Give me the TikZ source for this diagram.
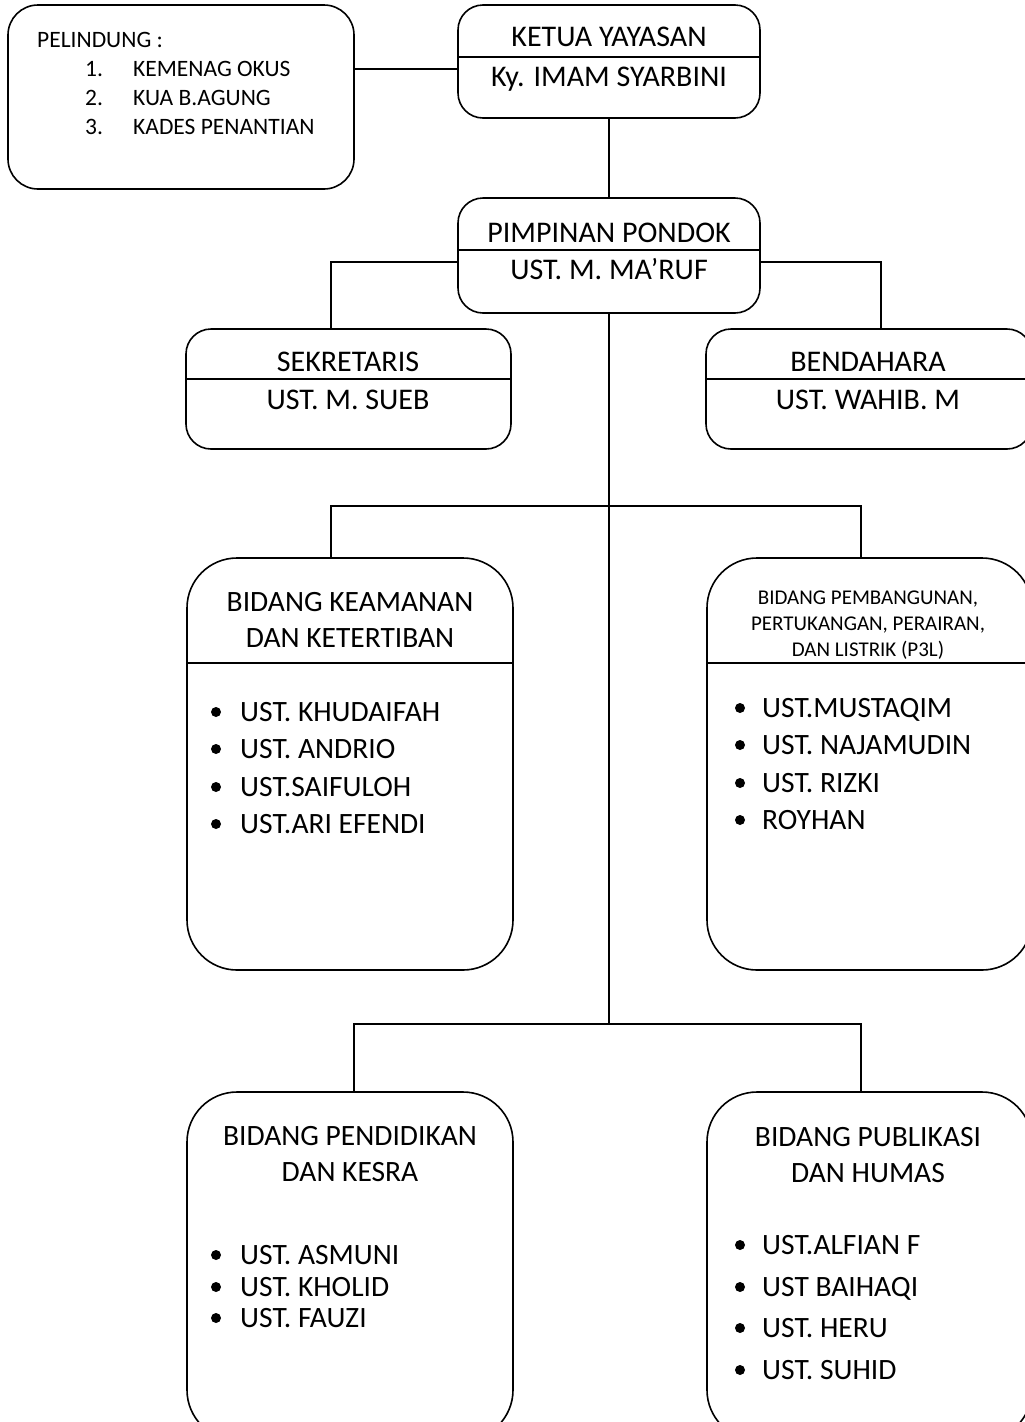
\documentclass[tikz,border=0pt]{standalone}
\usepackage{fontspec}
\setmainfont{Carlito}
\usepackage{tikz}

\tikzset{
  box/.style={draw, line width=1.6pt, rounded corners=25pt, inner sep=0pt, outer sep=0pt, anchor=north west},
  bigbox/.style={box, rounded corners=50pt},
  conn/.style={line width=1.6pt},
  head/.style={inner sep=0pt, text height=19pt, text depth=0pt, font=\fontsize{30}{36}\selectfont},
  title/.style={inner sep=0pt, align=center, font=\fontsize{29.5}{36}\selectfont},
  smalltitle/.style={inner sep=0pt, align=center, font=\fontsize{21}{26}\selectfont},
  item/.style={inner sep=0pt, anchor=west, text height=18.5pt, text depth=0pt, font=\fontsize{29.5}{34}\selectfont},
  small/.style={inner sep=0pt, anchor=west, text height=15pt, text depth=0pt, font=\fontsize{23.5}{28}\selectfont},
}

\begin{document}
\begin{tikzpicture}[x=1pt,y=-1pt]
\fill[white] (0,0) rectangle (1025,1422);
\useasboundingbox (0,0) rectangle (1025,1422);
\clip (0,0) rectangle (1025,1422);

% Pelindung
\node[box, rounded corners=30pt, minimum width=346pt, minimum height=184pt] (pelindung) at (8,5) {};
\node[small] (pel) at (37,40) {PELINDUNG :};
\node[small] (pel1n) at (85,69) {1.};
\node[small] (pel1) at (133,69) {KEMENAG OKUS};
\node[small] (pel2n) at (85,98) {2.};
\node[small] (pel2) at (133,98) {KUA B.AGUNG};
\node[small] (pel3n) at (85,127) {3.};
\node[small] (pel3) at (133,127) {KADES PENANTIAN};

% Ketua yayasan
\node[box, minimum width=302pt, minimum height=113pt] (ketua) at (458,5) {};
\draw[conn] ([yshift=-52pt]ketua.north west) -- ([yshift=-52pt]ketua.north east);
\node[head] (ketuajab) at (609,37) {KETUA YAYASAN};
\node[head] (ketuanama) at (609,77) {Ky. IMAM SYARBINI};

% Pimpinan pondok
\node[box, minimum width=302pt, minimum height=115pt] (pimpinan) at (458,198) {};
\draw[conn] ([yshift=-52pt]pimpinan.north west) -- ([yshift=-52pt]pimpinan.north east);
\node[head] (pimjab) at (609,233) {PIMPINAN PONDOK};
\node[head] (pimnama) at (609,270) {UST. M. MA’RUF};

% Sekretaris dan bendahara
\node[box, minimum width=325pt, minimum height=120pt] (sekretaris) at (186,329) {};
\draw[conn] ([yshift=-50pt]sekretaris.north west) -- ([yshift=-50pt]sekretaris.north east);
\node[head] (sekjab) at (348,362) {SEKRETARIS};
\node[head] (seknama) at (348,400) {UST. M. SUEB};

\node[box, minimum width=326pt, minimum height=120pt] (bendahara) at (706,329) {};
\draw[conn] ([yshift=-50pt]bendahara.north west) -- ([yshift=-50pt]bendahara.north east);
\node[head] (benjab) at (868,362) {BENDAHARA};
\node[head] (bennama) at (868,400) {UST. WAHIB. M};

% Bidang keamanan
\node[bigbox, minimum width=326pt, minimum height=412pt] (keamanan) at (187,558) {};
\draw[conn] ([yshift=-105pt]keamanan.north west) -- ([yshift=-105pt]keamanan.north east);
\node[title] (kamjudul) at (350,620) {BIDANG KEAMANAN\\DAN KETERTIBAN};
\fill (216,712) circle (5pt); \node[item] (kam1) at (240,712) {UST. KHUDAIFAH};
\fill (216,749) circle (5pt); \node[item] (kam2) at (240,749) {UST. ANDRIO};
\fill (216,787) circle (5pt); \node[item] (kam3) at (240,787) {UST.SAIFULOH};
\fill (216,824) circle (5pt); \node[item] (kam4) at (240,824) {UST.ARI EFENDI};

% Bidang P3L
\node[bigbox, minimum width=325pt, minimum height=412pt] (ptigal) at (707,558) {};
\draw[conn] ([yshift=-105pt]ptigal.north west) -- ([yshift=-105pt]ptigal.north east);
\node[smalltitle] (p3ljudul) at (868,625) {BIDANG PEMBANGUNAN,\\PERTUKANGAN, PERAIRAN,\\DAN LISTRIK (P3L)};
\fill (740,708) circle (5pt); \node[item] (p3l1) at (762,708) {UST.MUSTAQIM};
\fill (740,745) circle (5pt); \node[item] (p3l2) at (762,745) {UST. NAJAMUDIN};
\fill (740,783) circle (5pt); \node[item] (p3l3) at (762,783) {UST. RIZKI};
\fill (740,820) circle (5pt); \node[item] (p3l4) at (762,820) {ROYHAN};

% Bidang pendidikan
\node[bigbox, minimum width=326pt, minimum height=348pt] (pendidikan) at (187,1092) {};
\node[title] (pdkjudul) at (350,1154) {BIDANG PENDIDIKAN\\DAN KESRA};
\fill (216,1255) circle (5pt); \node[item] (pdk1) at (240,1255) {UST. ASMUNI};
\fill (216,1287) circle (5pt); \node[item] (pdk2) at (240,1287) {UST. KHOLID};
\fill (216,1318) circle (5pt); \node[item] (pdk3) at (240,1318) {UST. FAUZI};

% Bidang publikasi
\node[bigbox, minimum width=325pt, minimum height=348pt] (publikasi) at (707,1092) {};
\node[title] (pubjudul) at (868,1155) {BIDANG PUBLIKASI\\DAN HUMAS};
\fill (740,1245) circle (5pt); \node[item] (pub1) at (762,1245) {UST.ALFIAN F};
\fill (740,1287) circle (5pt); \node[item] (pub2) at (762,1287) {UST BAIHAQI};
\fill (740,1328) circle (5pt); \node[item] (pub3) at (762,1328) {UST. HERU};
\fill (740,1370) circle (5pt); \node[item] (pub4) at (762,1370) {UST. SUHID};

% Garis penghubung
\coordinate (pk) at (0,69);
\coordinate (sekjoin) at (331,262);
\coordinate (benjoin) at (881,262);
\coordinate (bar2) at (609,1024);
\coordinate (kamjoin) at (331,506);
\coordinate (p3ljoin) at (861,506);
\coordinate (pdkjoin) at (354,1024);
\coordinate (pubjoin) at (861,1024);

\draw[conn] (pelindung.east |- pk) -- (ketua.west |- pk);
\draw[conn] (ketua.south) -- (pimpinan.north);
\draw[conn] (pimpinan.west |- sekjoin) -| (sekretaris.north -| sekjoin);
\draw[conn] (pimpinan.east |- benjoin) -| (bendahara.north -| benjoin);
\draw[conn] (pimpinan.south) -- (bar2);
\draw[conn] (keamanan.north -| kamjoin) -- (kamjoin) -- (p3ljoin) -- (ptigal.north -| p3ljoin);
\draw[conn] (pendidikan.north -| pdkjoin) -- (pdkjoin) -- (pubjoin) -- (publikasi.north -| pubjoin);
\end{tikzpicture}
\end{document}
